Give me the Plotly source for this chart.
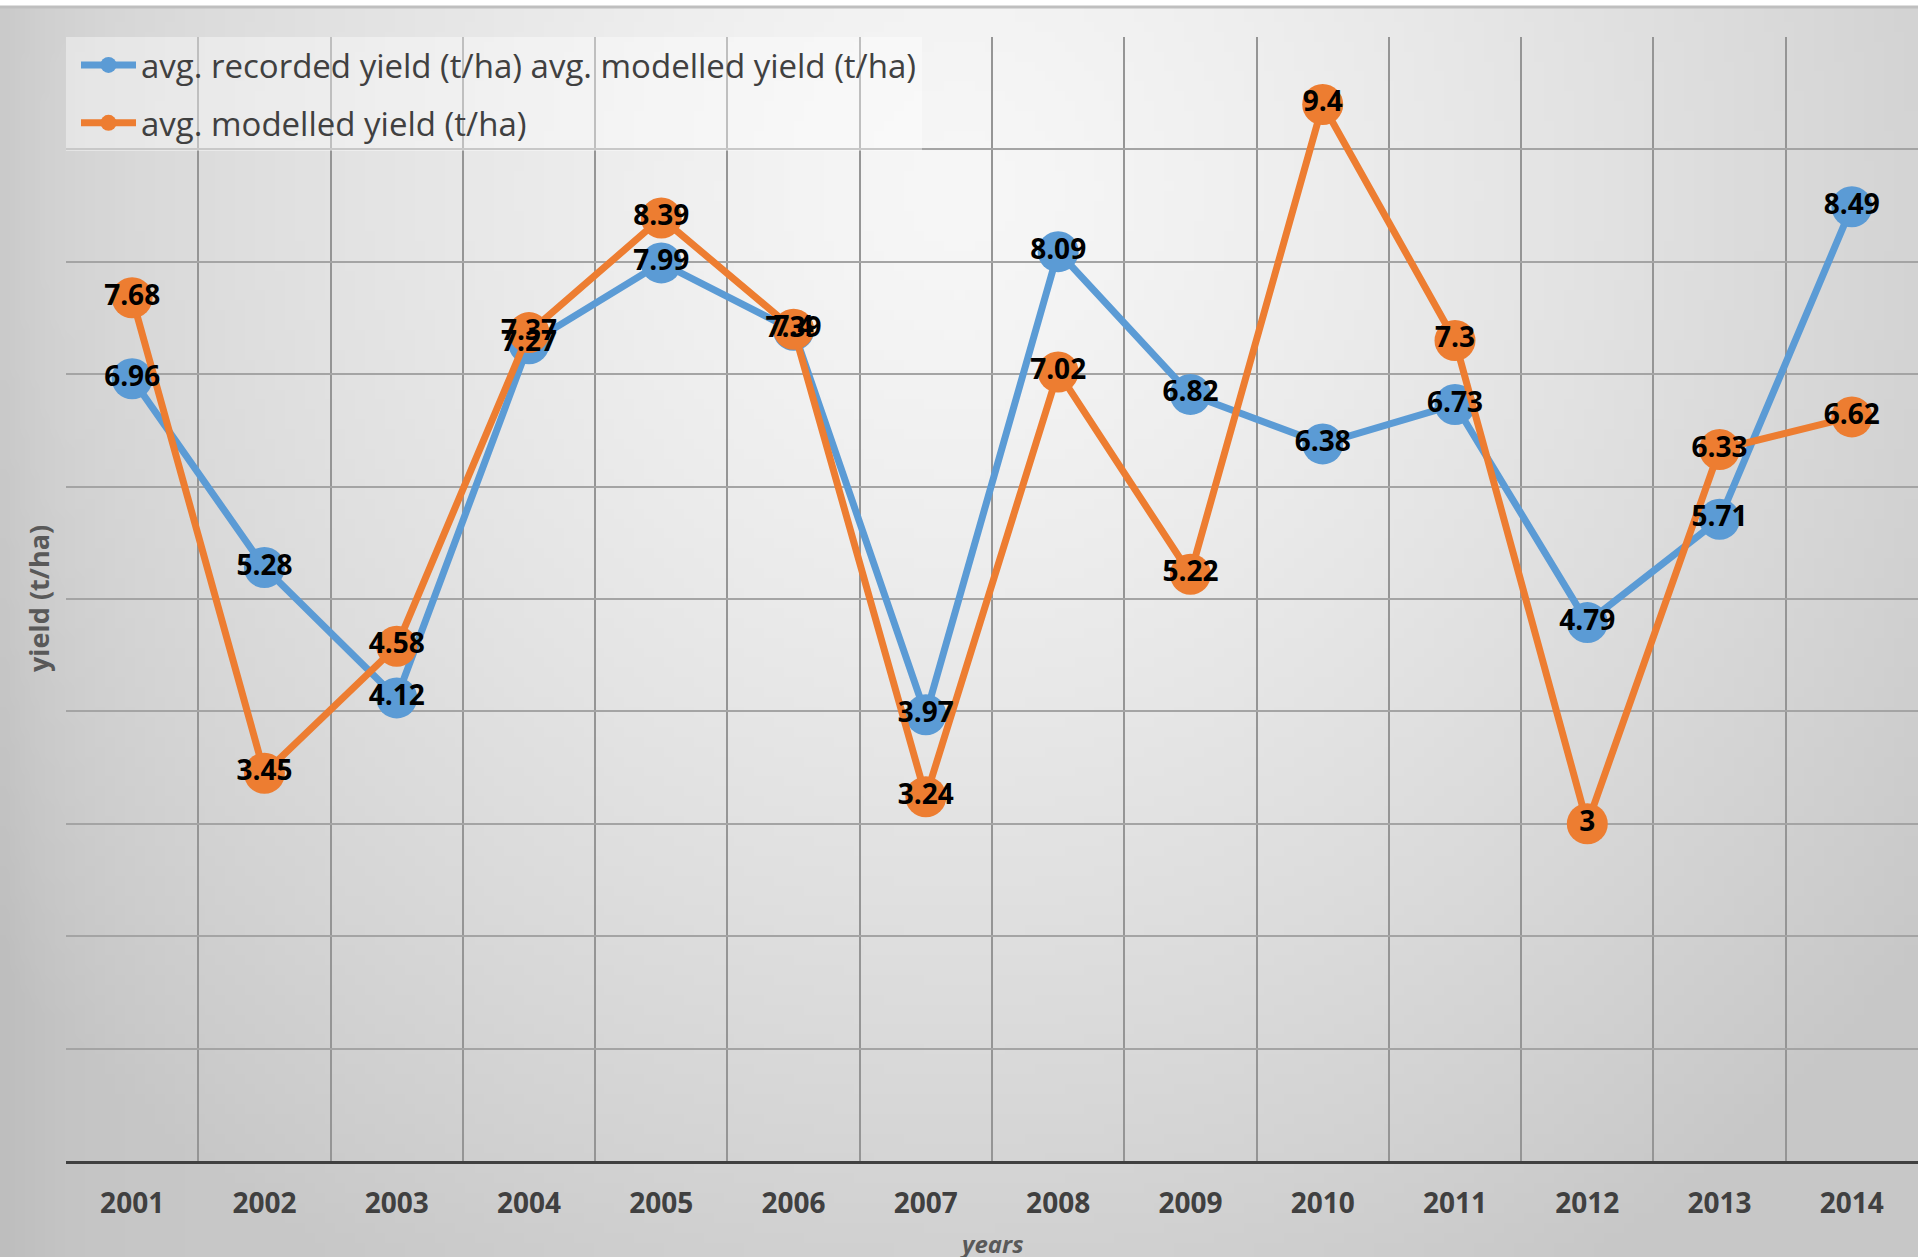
import base64
import struct
import zlib

import numpy as np
import plotly.graph_objects as go

# ---------------- data ----------------
years = ["2001", "2002", "2003", "2004", "2005", "2006", "2007",
         "2008", "2009", "2010", "2011", "2012", "2013", "2014"]
recorded = [6.96, 5.28, 4.12, 7.27, 7.99, 7.39, 3.97,
            8.09, 6.82, 6.38, 6.73, 4.79, 5.71, 8.49]
modelled = [7.68, 3.45, 4.58, 7.37, 8.39, 7.4, 3.24,
            7.02, 5.22, 9.4, 7.3, 3, 6.33, 6.62]
series_names = ["avg. recorded yield (t/ha) avg. modelled yield (t/ha)",
                "avg. modelled yield (t/ha)"]
y_title = "yield (t/ha)"
x_title = "years"

# ---------------- geometry / style ----------------
W, H = 1918, 1257
ML, MR, MT, MB = 66, 0, 37, 96
PW, PH = W - ML - MR, H - MT - MB
FONT = "Open Sans"
BLUE, ORANGE = "#5B9BD5", "#ED7D31"
TOP_LINE_Y = 7


# ---------------- background gradient (PNG built in memory) ----------------
def png_gray(arr):
    h, w = arr.shape
    raw = b"".join(b"\x00" + arr[i].astype(np.uint8).tobytes() for i in range(h))

    def chunk(tag, data):
        c = struct.pack(">I", len(data)) + tag + data
        return c + struct.pack(">I", zlib.crc32(tag + data) & 0xFFFFFFFF)

    ihdr = struct.pack(">IIBBBBB", w, h, 8, 0, 0, 0, 0)
    return (b"\x89PNG\r\n\x1a\n" + chunk(b"IHDR", ihdr)
            + chunk(b"IDAT", zlib.compress(raw, 9)) + chunk(b"IEND", b""))


gw, gh = 192, 126
gx = (np.arange(gw) + 0.5) / gw * W
gy = TOP_LINE_Y + (np.arange(gh) + 0.5) / gh * (H - TOP_LINE_Y)
GX, GY = np.meshgrid(gx, gy)
dist = np.sqrt(((GX - 960) / 1100) ** 2 + ((GY - 190) / 1150) ** 2)
grey = 247 - 42 * np.minimum(dist, 1.1) ** 1.3 - 10 * np.exp(-GX / 60)
grey = np.clip(grey, 0, 255)
bg_src = "data:image/png;base64," + base64.b64encode(png_gray(grey)).decode()

# ---------------- figure ----------------
fig = go.Figure()

for name, vals, col, grp in [(series_names[0], recorded, BLUE, "g1"),
                             (series_names[1], modelled, ORANGE, "g2")]:
    fig.add_trace(go.Scatter(
        x=years, y=vals, name=name, mode="lines+markers",
        line=dict(color=col, width=7),
        marker=dict(size=41, color=col),
        legendgroup=grp, hoverinfo="skip"))

for vals in (recorded, modelled):
    fig.add_trace(go.Scatter(
        x=years, y=vals, mode="text",
        text=[f"{v:g}" for v in vals], textposition="middle center",
        textfont=dict(family=FONT, size=28, color="black", weight="bold"),
        showlegend=False, hoverinfo="skip"))

fig.update_layout(
    width=W, height=H,
    margin=dict(l=ML, r=MR, t=MT, b=MB, pad=0),
    paper_bgcolor="white",
    plot_bgcolor="rgba(0,0,0,0)",
    font=dict(family=FONT, color="#404040"),
    showlegend=True,
    legend=dict(
        x=0, y=1, xanchor="left", yanchor="top",
        bgcolor="rgba(255,255,255,0.4)", borderwidth=0,
        font=dict(family=FONT, size=33, color="#404040"),
        itemwidth=55, tracegroupgap=12, traceorder="grouped",
        indentation=10,
    ),
    xaxis=dict(
        type="category", range=[-0.5, 13.5], tickson="boundaries",
        showgrid=True, gridcolor="#959595", gridwidth=1.5,
        showline=True, linecolor="#404040", linewidth=3,
        ticks="", ticklabelstandoff=15,
        tickfont=dict(family=FONT, size=28, color="#404040", weight="bold"),
        zeroline=False, fixedrange=True,
    ),
    yaxis=dict(
        range=[0, 10], tick0=0, dtick=1, showticklabels=False,
        showgrid=True, gridcolor="#a4a4a4", gridwidth=2,
        zeroline=False, showline=False, ticks="", fixedrange=True,
    ),
    images=[dict(
        source=bg_src, xref="paper", yref="paper",
        x=-ML / PW, y=(PH + MT - TOP_LINE_Y) / PH,
        sizex=W / PW, sizey=(H - TOP_LINE_Y) / PH,
        xanchor="left", yanchor="top", sizing="stretch", layer="below",
    )],
    shapes=[dict(
        type="line", xref="paper", yref="paper",
        x0=-ML / PW, x1=1, y0=(PH + MT - TOP_LINE_Y) / PH, y1=(PH + MT - TOP_LINE_Y) / PH,
        line=dict(color="#bfbfbf", width=3),
    )],
    annotations=[
        dict(text=y_title, xref="paper", yref="paper", x=0, y=0.5,
             xshift=-28, textangle=-90, showarrow=False,
             xanchor="center", yanchor="middle",
             font=dict(family=FONT, size=27, color="#595959", weight="bold")),
        dict(text=x_title, xref="paper", yref="paper", x=0.5, y=0,
             yshift=-82, showarrow=False, xanchor="center", yanchor="middle",
             font=dict(family=FONT, size=24, color="#595959", weight="bold",
                       style="italic")),
    ],
)

fig.write_html(
    "out.html",
    config={"displayModeBar": False},
    post_script="document.body.style.margin='0';document.body.style.overflow='hidden';",
)
